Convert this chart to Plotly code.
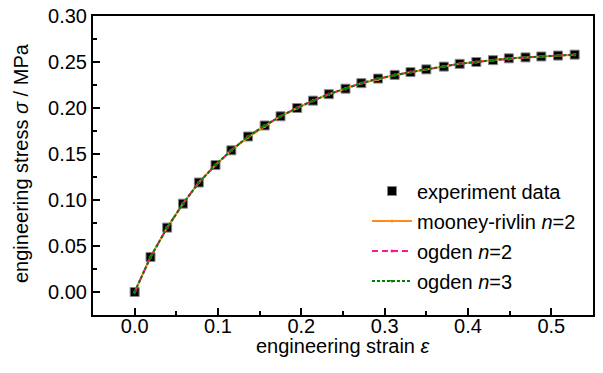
import plotly.graph_objects as go

strain = [0.000, 0.019, 0.039, 0.058, 0.077, 0.097, 0.116, 0.136, 0.156, 0.175,
          0.195, 0.214, 0.233, 0.253, 0.272, 0.292, 0.312, 0.331, 0.350, 0.371,
          0.390, 0.410, 0.430, 0.449, 0.469, 0.488, 0.508, 0.528]
stress_exp = [0.000, 0.038, 0.070, 0.096, 0.119, 0.138, 0.154, 0.169, 0.181, 0.191,
              0.200, 0.208, 0.215, 0.221, 0.227, 0.232, 0.236, 0.239, 0.242, 0.245,
              0.248, 0.250, 0.252, 0.254, 0.255, 0.256, 0.257, 0.258]
stress_mr2 = [0.000, 0.038, 0.070, 0.096, 0.119, 0.138, 0.154, 0.168, 0.180, 0.191,
              0.200, 0.208, 0.215, 0.221, 0.227, 0.231, 0.236, 0.239, 0.242, 0.245,
              0.248, 0.250, 0.252, 0.254, 0.255, 0.256, 0.257, 0.258]
stress_og2 = [0.000, 0.038, 0.070, 0.096, 0.119, 0.138, 0.154, 0.169, 0.181, 0.191,
              0.200, 0.208, 0.215, 0.221, 0.227, 0.232, 0.236, 0.239, 0.242, 0.245,
              0.248, 0.250, 0.252, 0.253, 0.255, 0.256, 0.257, 0.258]
stress_og3 = [0.000, 0.038, 0.070, 0.096, 0.119, 0.138, 0.154, 0.169, 0.181, 0.191,
              0.200, 0.208, 0.215, 0.221, 0.227, 0.232, 0.236, 0.239, 0.242, 0.245,
              0.248, 0.250, 0.252, 0.254, 0.255, 0.256, 0.257, 0.258]

x_ticks = [0.0, 0.1, 0.2, 0.3, 0.4, 0.5]
y_ticks = [0.00, 0.05, 0.10, 0.15, 0.20, 0.25, 0.30]

x_title = "engineering strain <i>ε</i>"
y_title = "engineering stress <i>σ</i> / MPa"

FONT = "Liberation Sans, Arial, sans-serif"
FS = 20

fig = go.Figure()
fig.add_trace(go.Scatter(
    x=strain, y=stress_exp, mode="markers", name="experiment data", legendgroup="a",
    marker=dict(symbol="square", size=9, color="black",
                line=dict(color="#888888", width=1))))
fig.add_trace(go.Scatter(
    x=strain, y=stress_mr2, mode="lines+markers", name="mooney-rivlin <i>n</i>=2", legendgroup="b",
    line=dict(color="#FF8C1A", width=2),
    marker=dict(symbol="circle", size=3, color="#FF8C1A")))
fig.add_trace(go.Scatter(
    x=strain, y=stress_og2, mode="lines+markers", name="ogden <i>n</i>=2", legendgroup="c",
    line=dict(color="#FF1493", width=2, dash="6px,4px"),
    marker=dict(symbol="circle", size=3, color="#FF1493")))
fig.add_trace(go.Scatter(
    x=strain, y=stress_og3, mode="lines+markers", name="ogden <i>n</i>=3", legendgroup="d",
    line=dict(color="#008000", width=2, dash="3px,2px"),
    marker=dict(symbol="triangle-down", size=4, color="#008000")))

axis_common = dict(
    showgrid=False, zeroline=False, showline=True, linecolor="black", linewidth=2,
    mirror=True, ticks="inside", ticklen=7, tickwidth=1.5, tickcolor="black",
    tickfont=dict(family=FONT, size=FS, color="black"), automargin=False,
)

fig.update_xaxes(
    range=[-0.05, 0.55], tickvals=x_ticks, ticktext=[f"{v:.1f}" for v in x_ticks],
    minor=dict(ticks="inside", ticklen=4, tickwidth=1.5, tickcolor="black", dtick=0.05, tick0=0),
    ticklabelstandoff=-8,
    **axis_common)
fig.update_yaxes(
    range=[-0.025, 0.30], tickvals=y_ticks, ticktext=[f"{v:.2f}" for v in y_ticks],
    minor=dict(ticks="inside", ticklen=4, tickwidth=1.5, tickcolor="black", dtick=0.025, tick0=0),
    ticklabelstandoff=0,
    **axis_common)

fig.add_annotation(text=x_title, xref="paper", yref="paper", x=0.5, y=(315 - 346) / 299,
                   xanchor="center", yanchor="middle", showarrow=False,
                   font=dict(family=FONT, size=FS, color="black"))
fig.add_annotation(text=y_title, xref="paper", yref="paper", x=(21 - 93) / 500, y=(315 - 163) / 299,
                   xanchor="center", yanchor="middle", showarrow=False, textangle=-90,
                   font=dict(family=FONT, size=FS, color="black"))

fig.update_layout(
    width=603, height=373,
    margin=dict(l=93, r=10, t=16, b=58, autoexpand=False),
    plot_bgcolor="white", paper_bgcolor="white",
    font=dict(family=FONT, size=FS, color="black"),
    legend=dict(x=0.548, y=0.48, xanchor="left", yanchor="top",
                bgcolor="rgba(0,0,0,0)", borderwidth=0,
                font=dict(family=FONT, size=FS, color="black"),
                itemwidth=40, traceorder="grouped", tracegroupgap=1),
    showlegend=True,
)

fig.write_html("out.html", config={"displayModeBar": False},
               post_script="document.body.style.margin='0';document.body.style.padding='0';")
